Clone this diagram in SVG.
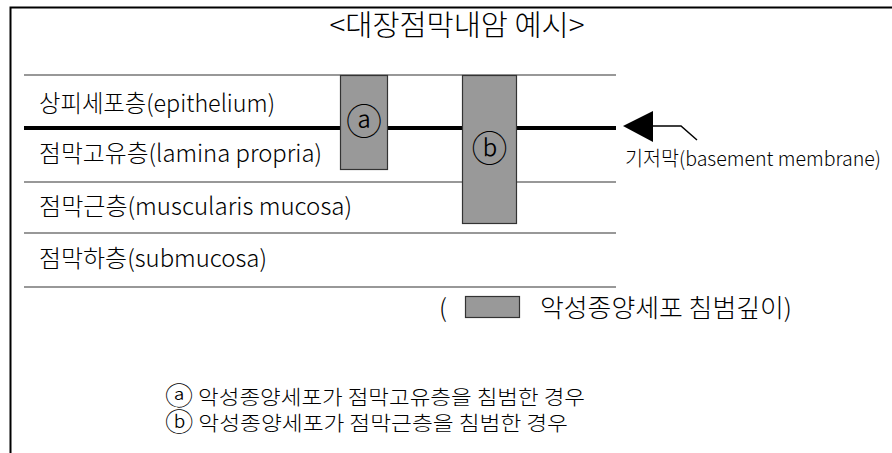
<svg xmlns="http://www.w3.org/2000/svg" width="892" height="453" viewBox="0 0 892 453">
<style>
.t{font-family:"Noto Sans CJK KR","Liberation Sans",sans-serif;font-weight:300;fill:#000}
.thin{stroke:#333;stroke-width:1.2;fill:none}
.box{fill:#999;stroke:#333;stroke-width:1.2}
.c{font-size:1.25em}
</style>
<rect width="892" height="453" fill="#fff"/>
<g id="frame">
<path d="M10.5,453 V7.5 H892" fill="none" stroke="#000" stroke-width="2"/>
</g>
<g id="title"><text class="t" x="457" y="36" font-size="29" text-anchor="middle" textLength="255" lengthAdjust="spacingAndGlyphs">&lt;대장점막내암 예시&gt;</text></g>
<g id="layers">
<line class="thin" x1="24" y1="75" x2="616" y2="75"/>
<line x1="24" y1="128" x2="616" y2="128" stroke="#000" stroke-width="4"/>
<line class="thin" x1="24" y1="182" x2="616" y2="182"/>
<line class="thin" x1="24" y1="233" x2="616" y2="233"/>
<line class="thin" x1="24" y1="287" x2="616" y2="287"/>
<text class="t" x="39" y="112" font-size="24" textLength="236" lengthAdjust="spacingAndGlyphs">상피세포층(epithelium)</text>
<text class="t" x="39" y="162" font-size="24" textLength="283" lengthAdjust="spacingAndGlyphs">점막고유층(lamina propria)</text>
<text class="t" x="39" y="215" font-size="24" textLength="313" lengthAdjust="spacingAndGlyphs">점막근층(muscularis mucosa)</text>
<text class="t" x="39" y="267" font-size="24" textLength="228" lengthAdjust="spacingAndGlyphs">점막하층(submucosa)</text>
</g>
<g id="node-a">
<rect class="box" x="340.5" y="75.5" width="47" height="94"/>
<text class="t" x="364" y="135" font-size="36" text-anchor="middle">ⓐ</text>
</g>
<g id="node-b">
<rect class="box" x="462.5" y="75.5" width="54" height="148"/>
<text class="t" x="489.5" y="162" font-size="36" text-anchor="middle">ⓑ</text>
</g>
<g id="connectors">
<polygon points="623,126 653,111 653,142" fill="#000"/>
<polyline points="653,126 681,126 697,140" fill="none" stroke="#000" stroke-width="1.5"/>
</g>
<g id="basement-label"><text class="t" x="625" y="166" font-size="20" textLength="256" lengthAdjust="spacingAndGlyphs">기저막(basement membrane)</text></g>
<g id="legend">
<text class="t" x="439" y="317" font-size="25">(</text>
<rect class="box" x="465.5" y="296.5" width="54" height="21"/>
<text class="t" x="540" y="317" font-size="25" textLength="252" lengthAdjust="spacingAndGlyphs">악성종양세포 침범깊이)</text>
</g>
<g id="notes">
<text class="t" x="165" y="405" font-size="20" textLength="420" lengthAdjust="spacingAndGlyphs"><tspan class="c">ⓐ</tspan> 악성종양세포가 점막고유층을 침범한 경우</text>
<text class="t" x="165" y="431" font-size="20" textLength="403" lengthAdjust="spacingAndGlyphs"><tspan class="c">ⓑ</tspan> 악성종양세포가 점막근층을 침범한 경우</text>
</g>
</svg>
